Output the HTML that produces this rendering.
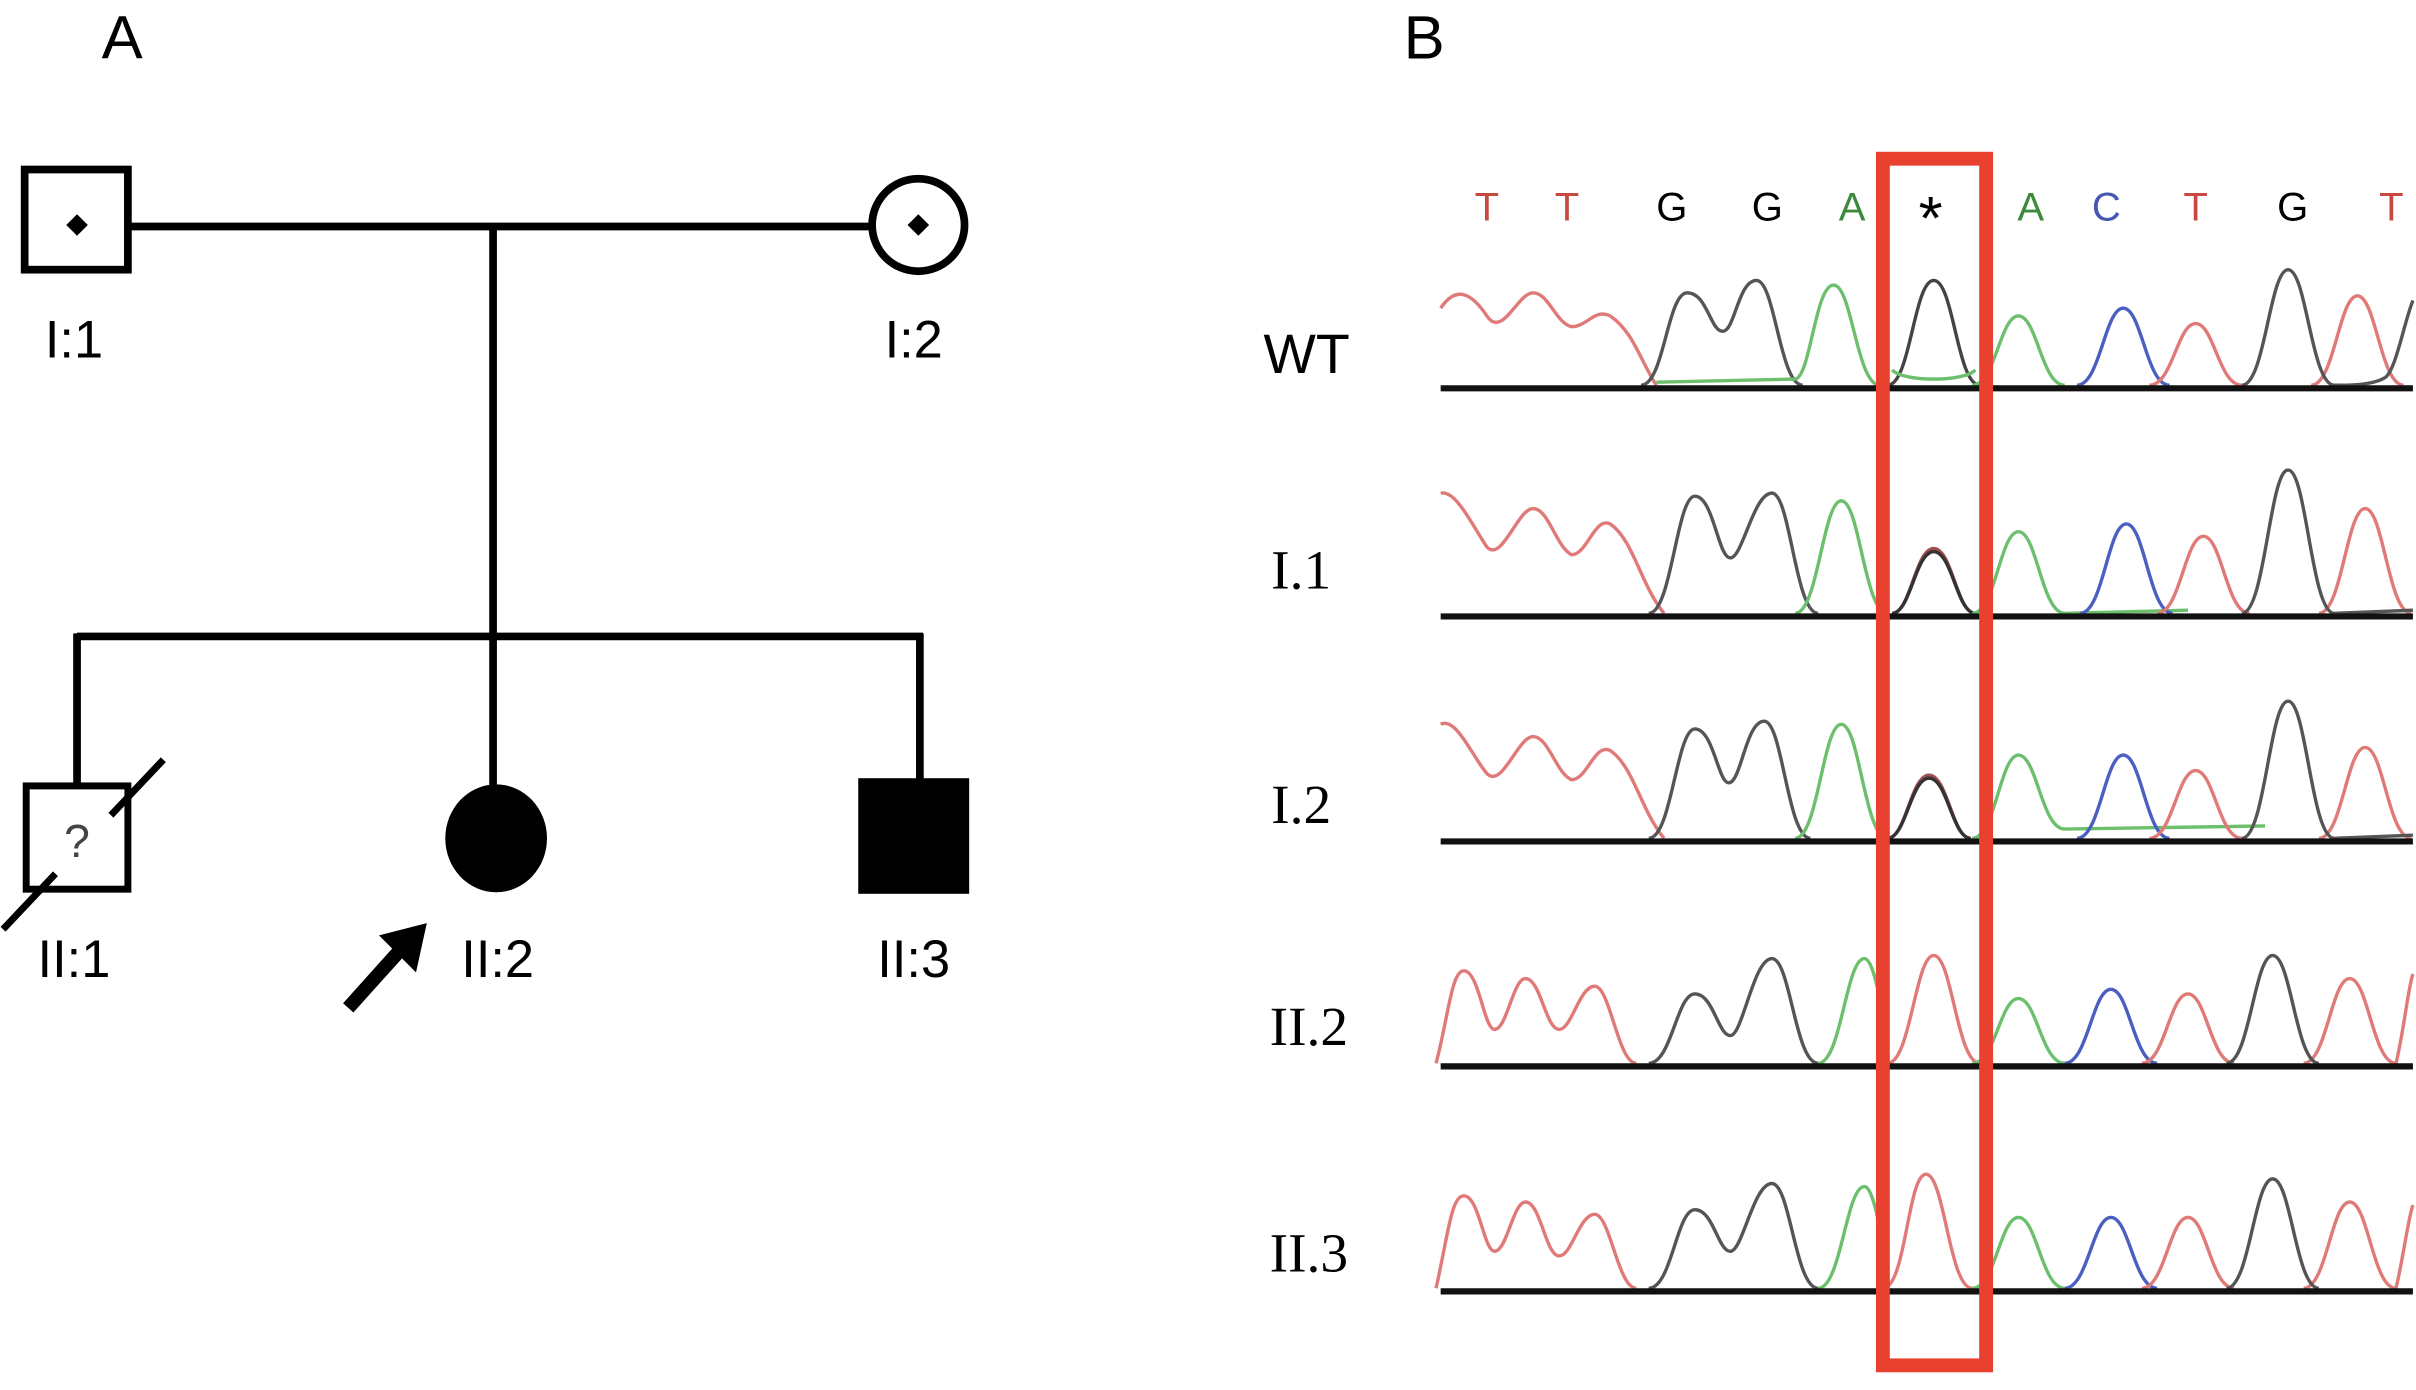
<!DOCTYPE html>
<html><head><meta charset="utf-8"><style>
html,body{margin:0;padding:0;background:#fff;}
svg{display:block;}
.s{font-family:"Liberation Sans",sans-serif;}
.r{font-family:"Liberation Serif",serif;}
.tr path{fill:none;stroke-width:2.2;stroke-linejoin:round;}
</style></head><body>
<svg width="2416" height="1390" viewBox="0 0 1568 902" preserveAspectRatio="none" xmlns="http://www.w3.org/2000/svg">
<rect width="1568" height="902" fill="#fff"/>
<!-- Panel A -->
<text x="66" y="38" class="s" font-size="40">A</text>
<g stroke="#000" stroke-width="5" fill="none">
<rect x="16" y="110" width="67" height="65"/>
<line x1="83" y1="147" x2="565" y2="147"/>
<circle cx="596" cy="146" r="30"/>
<line x1="320" y1="147" x2="320" y2="415"/>
<line x1="50" y1="413" x2="599" y2="413"/>
<line x1="50" y1="411" x2="50" y2="510"/>
<line x1="320" y1="411" x2="320" y2="512"/>
<line x1="597" y1="411" x2="597" y2="507"/>
<rect x="17" y="510" width="66" height="67" stroke-width="4.5"/>
<line x1="2" y1="603" x2="36" y2="567" stroke-width="4.5"/>
<line x1="72" y1="529" x2="106" y2="493" stroke-width="4.5"/>
</g>
<path d="M50 139 L57 146 L50 153 L43 146Z" fill="#000"/>
<path d="M596 139 L603 146 L596 153 L589 146Z" fill="#000"/>
<text x="50" y="556" class="s" font-size="30" text-anchor="middle" fill="#444">?</text>
<ellipse cx="322" cy="544" rx="33" ry="35" fill="#000"/>
<rect x="557" y="505" width="72" height="75" fill="#000"/>
<g class="s" font-size="34" text-anchor="middle">
<text x="48" y="232">I:1</text>
<text x="593" y="232">I:2</text>
<text x="48" y="634">II:1</text>
<text x="323" y="634">II:2</text>
<text x="593" y="634">II:3</text>
</g>
<line x1="226" y1="654" x2="262" y2="614" stroke="#000" stroke-width="9"/>
<polygon points="277,599 246,607 270,631" fill="#000"/>
<!-- Panel B -->
<text x="911" y="38" class="s" font-size="40">B</text>
<g class="s" font-size="26" text-anchor="middle">
<text x="965" y="143" fill="#c9483f">T</text>
<text x="1017" y="143" fill="#c9483f">T</text>
<text x="1085" y="143" fill="#000">G</text>
<text x="1147" y="143" fill="#000">G</text>
<text x="1202" y="143" fill="#3d8a3d">A</text>
<text x="1253" y="155" fill="#000" font-size="40">*</text>
<text x="1318" y="143" fill="#3d8a3d">A</text>
<text x="1367" y="143" fill="#4757b0">C</text>
<text x="1425" y="143" fill="#c9483f">T</text>
<text x="1488" y="143" fill="#000">G</text>
<text x="1552" y="143" fill="#c9483f">T</text>
</g>
<text x="820" y="242" class="s" font-size="36">WT</text>
<g class="r" font-size="36">
<text x="825" y="382">I.1</text>
<text x="825" y="534">I.2</text>
<text x="824" y="678">II.2</text>
<text x="824" y="825">II.3</text>
</g>
<g class="tr">
<path stroke="#e07a78" d="M935 200 C945 185 955 190 965 205 C975 220 985 190 995 190 C1005 190 1010 210 1020 212 C1030 212 1035 200 1045 205 C1060 215 1065 235 1075 250"/>
<path stroke="#555" d="M1065 250 C1080 250 1082 190 1095 190 C1108 190 1110 215 1118 215 C1126 215 1128 182 1140 182 C1152 182 1155 250 1170 250"/>
<path stroke="#6cbf6c" d="M1075 248 L1165 246 C1175 245 1178 185 1190 185 C1202 185 1205 250 1220 250"/>
<path stroke="#444" d="M1225 250 C1240 250 1242 182 1255 182 C1268 182 1270 250 1285 250"/>
<path stroke="#6cbf6c" d="M1228 240 C1235 248 1275 248 1282 240 M1280 250 C1295 250 1298 205 1310 205 C1322 205 1325 250 1340 250"/>
<path stroke="#4a5fc0" d="M1348 250 C1363 250 1366 200 1378 200 C1390 200 1393 250 1408 250"/>
<path stroke="#e07a78" d="M1395 250 C1410 250 1413 210 1425 210 C1437 210 1440 250 1455 250 M1500 250 C1515 250 1518 192 1530 192 C1542 192 1545 250 1560 250"/>
<path stroke="#555" d="M1455 250 C1470 250 1473 175 1485 175 C1497 175 1500 250 1515 250 C1525 250 1540 250 1548 245 C1555 240 1560 210 1566 195"/>
<path stroke="#e07a78" d="M935 320 C945 318 955 340 965 355 C975 365 985 330 995 330 C1005 330 1010 355 1020 360 C1030 360 1035 335 1045 340 C1060 350 1065 380 1080 398"/>
<path stroke="#555" d="M1070 398 C1085 398 1088 322 1100 322 C1112 322 1115 362 1123 362 C1131 362 1138 320 1150 320 C1162 320 1165 398 1180 398"/>
<path stroke="#6cbf6c" d="M1165 398 C1180 398 1183 325 1195 325 C1207 325 1210 398 1225 398"/>
<path stroke="#a05050" d="M1228 398 C1240 398 1243 356 1255 356 C1267 356 1270 398 1282 398"/>
<path stroke="#333" d="M1228 398 C1240 398 1243 358 1255 358 C1267 358 1270 398 1282 398"/>
<path stroke="#6cbf6c" d="M1280 398 C1295 398 1298 345 1310 345 C1322 345 1325 398 1340 398 L1420 396"/>
<path stroke="#4a5fc0" d="M1350 398 C1365 398 1368 340 1380 340 C1392 340 1395 398 1410 398"/>
<path stroke="#e07a78" d="M1400 398 C1415 398 1418 348 1430 348 C1442 348 1445 398 1460 398 M1505 398 C1520 398 1523 330 1535 330 C1547 330 1550 398 1565 398"/>
<path stroke="#555" d="M1455 398 C1470 398 1473 305 1485 305 C1497 305 1500 398 1515 398 L1566 396"/>
<path stroke="#e07a78" d="M935 470 C945 465 955 490 965 502 C975 512 985 478 995 478 C1005 478 1010 502 1020 506 C1030 506 1035 482 1045 487 C1060 497 1065 526 1080 544"/>
<path stroke="#555" d="M1070 544 C1085 544 1088 473 1100 473 C1112 473 1115 508 1122 508 C1130 508 1133 468 1145 468 C1157 468 1160 544 1175 544"/>
<path stroke="#6cbf6c" d="M1165 544 C1180 544 1183 470 1195 470 C1207 470 1210 544 1225 544"/>
<path stroke="#a05050" d="M1225 544 C1237 544 1240 503 1252 503 C1264 503 1267 544 1279 544"/>
<path stroke="#333" d="M1225 544 C1237 544 1240 505 1252 505 C1264 505 1267 544 1279 544"/>
<path stroke="#6cbf6c" d="M1280 544 C1295 544 1298 490 1310 490 C1322 490 1325 538 1340 538 L1470 536"/>
<path stroke="#4a5fc0" d="M1348 544 C1363 544 1366 490 1378 490 C1390 490 1393 544 1408 544"/>
<path stroke="#e07a78" d="M1395 544 C1410 544 1413 500 1425 500 C1437 500 1440 544 1455 544 M1505 544 C1520 544 1523 485 1535 485 C1547 485 1550 544 1565 544"/>
<path stroke="#555" d="M1455 544 C1470 544 1473 455 1485 455 C1497 455 1500 544 1515 544 L1566 542"/>
<path stroke="#e07a78" d="M932 690 C940 660 942 630 950 630 C960 630 963 668 970 668 C978 668 982 635 990 635 C1000 635 1003 668 1012 668 C1020 668 1025 640 1035 640 C1045 640 1050 690 1062 690 M1225 690 C1240 690 1243 620 1255 620 C1267 620 1270 690 1285 690"/>
<path stroke="#555" d="M1070 690 C1085 690 1088 645 1100 645 C1112 645 1115 672 1123 672 C1131 672 1138 622 1150 622 C1162 622 1165 690 1180 690"/>
<path stroke="#6cbf6c" d="M1180 690 C1195 690 1198 622 1210 622 C1216 622 1220 650 1225 670"/>
<path stroke="#6cbf6c" d="M1280 690 C1295 690 1298 648 1310 648 C1322 648 1325 690 1340 690"/>
<path stroke="#4a5fc0" d="M1340 690 C1355 690 1358 642 1370 642 C1382 642 1385 690 1400 690"/>
<path stroke="#e07a78" d="M1390 690 C1405 690 1408 645 1420 645 C1432 645 1435 690 1450 690 M1495 690 C1510 690 1513 635 1525 635 C1537 635 1540 690 1555 690 C1560 670 1563 640 1566 632"/>
<path stroke="#555" d="M1445 690 C1460 690 1463 620 1475 620 C1487 620 1490 690 1505 690"/>
<path stroke="#e07a78" d="M932 836 C940 800 942 776 950 776 C960 776 963 812 970 812 C978 812 982 780 990 780 C1000 780 1003 815 1012 815 C1020 815 1025 788 1035 788 C1045 788 1050 836 1062 836 M1222 836 C1237 836 1238 762 1250 762 C1262 762 1265 836 1280 836"/>
<path stroke="#555" d="M1070 836 C1085 836 1088 785 1100 785 C1112 785 1115 812 1123 812 C1131 812 1138 768 1150 768 C1162 768 1165 836 1180 836"/>
<path stroke="#6cbf6c" d="M1180 836 C1195 836 1198 770 1210 770 C1216 770 1220 800 1225 815"/>
<path stroke="#6cbf6c" d="M1280 836 C1295 836 1298 790 1310 790 C1322 790 1325 836 1340 836"/>
<path stroke="#4a5fc0" d="M1340 836 C1355 836 1358 790 1370 790 C1382 790 1385 836 1400 836"/>
<path stroke="#e07a78" d="M1390 836 C1405 836 1408 790 1420 790 C1432 790 1435 836 1450 836 M1495 836 C1510 836 1513 780 1525 780 C1537 780 1540 836 1555 836 C1560 815 1563 790 1566 782"/>
<path stroke="#555" d="M1445 836 C1460 836 1463 765 1475 765 C1487 765 1490 836 1505 836"/>
</g>
<g stroke="#111" stroke-width="4">
<line x1="935" y1="252" x2="1566" y2="252"/>
<line x1="935" y1="400" x2="1566" y2="400"/>
<line x1="935" y1="546" x2="1566" y2="546"/>
<line x1="935" y1="692" x2="1566" y2="692"/>
<line x1="935" y1="838" x2="1566" y2="838"/>
</g>
<rect x="1222" y="103" width="67" height="783" fill="none" stroke="#e8412f" stroke-width="9"/>
</svg>
</body></html>
